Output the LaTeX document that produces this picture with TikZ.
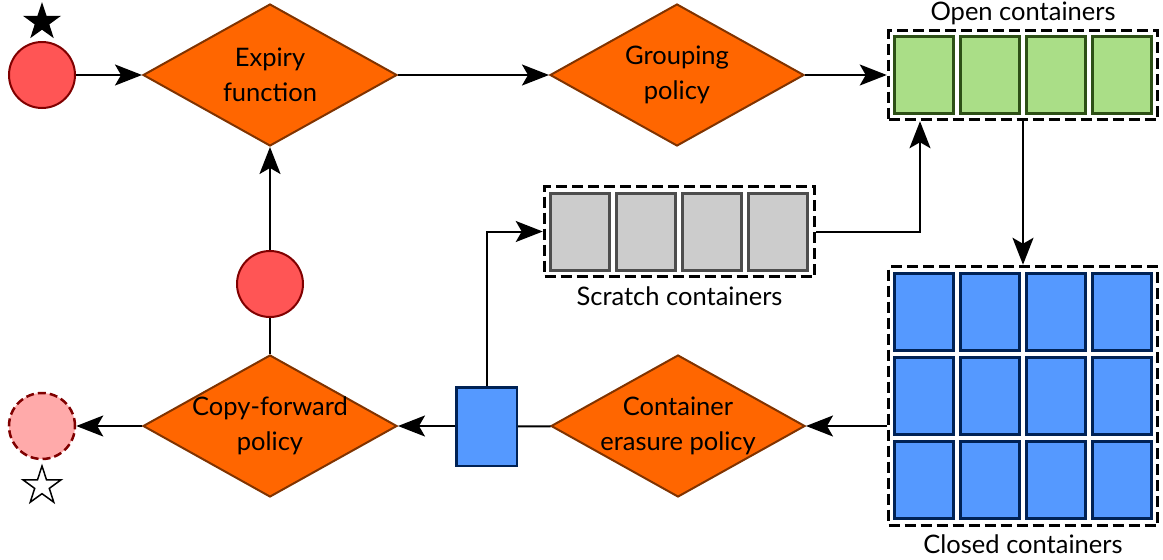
\documentclass[tikz,border=0pt]{standalone}
\usepackage{fontspec}
\setmainfont{Lato}
\usetikzlibrary{shapes.geometric,arrows.meta}
\definecolor{orangefill}{HTML}{FF6600}
\definecolor{orangeline}{HTML}{803300}
\definecolor{redfill}{HTML}{FF5555}
\definecolor{pinkfill}{HTML}{FFAAAA}
\definecolor{darkred}{HTML}{800000}
\definecolor{greenfill}{HTML}{AADE87}
\definecolor{greenline}{HTML}{2D5016}
\definecolor{bluefill}{HTML}{5599FF}
\definecolor{blueline}{HTML}{002255}
\definecolor{greyfill}{HTML}{CCCCCC}
\definecolor{greyline}{HTML}{4D4D4D}
\tikzset{
  txt/.style={font=\fontsize{25.5}{35}\selectfont},
  decision/.style={diamond, draw=orangeline, fill=orangefill, line width=2pt,
    minimum width=254pt, minimum height=142pt, inner sep=0pt},
  dlabel/.style={align=center, txt},
  token/.style={circle, draw=darkred, fill=redfill, line width=2pt,
    minimum size=66pt, inner sep=0pt},
  endtoken/.style={circle, draw=darkred, fill=pinkfill, line width=2.5pt,
    dash pattern=on 8pt off 4pt, minimum size=66pt, inner sep=0pt},
  group/.style={draw=black, line width=3.5pt, dash pattern=on 11pt off 5pt,
    inner sep=0pt, fill=white},
  cell/.style={line width=3pt, minimum width=59pt, minimum height=77pt, inner sep=0pt},
  opencell/.style={cell, draw=greenline, fill=greenfill},
  closedcell/.style={cell, draw=blueline, fill=bluefill},
  scratchcell/.style={cell, draw=greyline, fill=greyfill},
  conn/.style={line width=2pt, draw=black},
  arr/.style={conn, -{Stealth[length=27pt,width=21pt,inset=6pt]}},
  starmark/.style={star, star points=5, star point ratio=2.6, minimum size=40pt, inner sep=0pt}
}
\begin{document}
\begin{tikzpicture}[x=1pt,y=-1pt]
\useasboundingbox (0,0) rectangle (1163,560);

% top row
\node[token] (start) at (42,75) {};
\node[starmark, fill=black] (startstar) at (42,22) {};
\node[decision, label={[dlabel]center:Expiry\\function}] (expiry) at (270,75) {};
\node[decision, label={[dlabel]center:Grouping\\policy}] (grouping) at (677,75) {};

% open containers
\node[group, minimum width=269pt, minimum height=89pt,
  label={[txt, label distance=0pt]above:Open containers}] (open) at (1023,75) {};
\foreach \i/\x in {1/924,2/990,3/1056,4/1122}
  \node[opencell] (o\i) at (\x,75) {};

% closed containers
\node[group, minimum width=269pt, minimum height=259pt,
  label={[txt, label distance=4pt]below:Closed containers}] (closed) at (1023,396) {};
\foreach \r/\y in {1/312,2/396,3/480}
  \foreach \i/\x in {1/924,2/990,3/1056,4/1122}
    \node[closedcell] (c\r\i) at (\x,\y) {};

% scratch containers
\node[group, minimum width=270pt, minimum height=90pt,
  label={[txt, label distance=5pt]below:Scratch containers}] (scratch) at (679.5,231.5) {};
\foreach \i/\x in {1/580,2/646,3/712,4/778}
  \node[scratchcell] (s\i) at (\x,231.5) {};

% bottom row
\node[decision, label={[dlabel]center:Container\\erasure policy}] (erasure) at (678,426) {};
\node[draw=blueline, fill=bluefill, line width=2.5pt, minimum width=60.5pt,
  minimum height=78.5pt, inner sep=0pt] (block) at (486.5,426.5) {};
\node[decision, label={[dlabel]center:Copy-forward\\policy}] (copy) at (270,426) {};
\node[endtoken] (finish) at (42,426) {};
\node[starmark, draw=black, fill=white, line width=1.5pt] (endstar) at (42,486) {};

% middle token
\node[token] (mid) at (270,284) {};

% connectors
\draw[arr] (start) -- (expiry);
\draw[arr] (expiry) -- (grouping);
\draw[arr] (grouping) -- (open);
\draw[arr] (open) -- (closed);
\draw[arr] (closed.west |- erasure) -- (erasure);
\draw[conn] (erasure) -- (block);
\draw[arr] (block.west |- copy) -- (copy);
\draw[arr] (copy) -- (finish);
\draw[conn] (copy) -- (mid);
\draw[arr] (mid) -- (expiry);
\draw[arr] (block.north) |- (scratch.west);
\draw[arr] (scratch.east) -| ([xshift=-103pt]open.south);
\end{tikzpicture}
\end{document}
